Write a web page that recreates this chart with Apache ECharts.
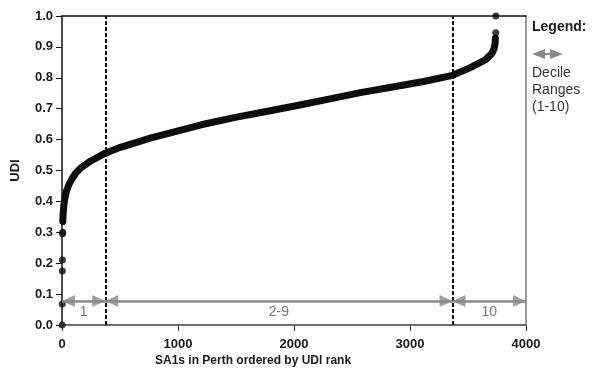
<!DOCTYPE html>
<html>
<head>
<meta charset="utf-8">
<script src="https://cdn.jsdelivr.net/npm/echarts@6/dist/echarts.min.js"></script>
<style>
    html, body {margin: 0; padding: 0; background: #fff;}
    #udi-rank-graph {width: 597px; height: 369px;}
</style>
</head>
<body>
<div id="udi-rank-graph"></div>
<script>
// Rank vs UDI (main curve)
const curveRanks = [7, 10, 15, 25, 40, 60, 85, 115, 160, 244, 373, 503, 761, 934, 1200, 1494, 1750, 2040, 2300, 2572, 2850, 3117, 3367, 3520, 3649, 3707, 3725, 3733, 3736];
const curveUdi = [0.335, 0.36, 0.385, 0.41, 0.435, 0.455, 0.472, 0.49, 0.508, 0.53, 0.556, 0.575, 0.605, 0.622, 0.648, 0.672, 0.69, 0.711, 0.731, 0.752, 0.77, 0.788, 0.808, 0.833, 0.858, 0.879, 0.895, 0.91, 0.928];
// Isolated points at both ends
const outlierRanks = [1, 2, 3, 4, 5, 6, 3739, 3740];
const outlierUdi = [0.0, 0.068, 0.175, 0.21, 0.295, 0.30, 0.946, 1.0];
// Decile boundaries and arrow labels
const decileCuts = [373, 3367];
const decileRanges = [[0, 373, "1"], [373, 3367, "2-9"], [3367, 4000, "10"]];
const arrowUdi = 0.078;
const xTicks = [0, 1000, 2000, 3000, 4000];

const font = "Liberation Sans, Arial, sans-serif";
const chart = echarts.init(document.getElementById("udi-rank-graph"));

const curveData = curveRanks.map((r, i) => [r, curveUdi[i]]);
const outlierData = outlierRanks.map((r, i) => [r, outlierUdi[i]]);

// arrow heads: left-pointing at range start, right-pointing at range end
const headLeft = "path://M0,5L10,0L10,10Z";
const headRight = "path://M10,5L0,0L0,10Z";
const headW = 13;
const arrowHeads = [];
decileRanges.forEach(([a, b]) => {
    arrowHeads.push({value: [a, arrowUdi], symbol: headLeft, symbolOffset: [headW / 2, 0]});
    arrowHeads.push({value: [b, arrowUdi], symbol: headRight, symbolOffset: [-headW / 2, 0]});
});

chart.setOption({
    animation: false,
    grid: {left: 62, right: 71, top: 16, bottom: 44},
    xAxis: [
        {
            type: "value",
            min: xTicks[0],
            max: xTicks[xTicks.length - 1],
            interval: 1000,
            splitLine: {show: false},
            axisLine: {lineStyle: {color: "#6e6e6e", width: 2}},
            axisTick: {length: 6, lineStyle: {color: "#333", width: 1}},
            axisLabel: {
                color: "#1a1a1a", fontWeight: "bold", fontSize: 13, fontFamily: font, margin: 13,
                formatter: (v) => String(v)
            }
        },
        {
            type: "value",
            position: "top",
            min: 0,
            max: 4000,
            axisLine: {show: true, onZero: false, lineStyle: {color: "#111", width: 1.5}},
            axisTick: {show: false},
            axisLabel: {show: false},
            splitLine: {show: false}
        }
    ],
    yAxis: [
        {
            type: "value",
            min: 0,
            max: 1,
            interval: 0.1,
            name: "UDI",
            nameLocation: "middle",
            nameGap: 40,
            nameTextStyle: {color: "#1a1a1a", fontWeight: "bold", fontSize: 13, fontFamily: font},
            splitLine: {show: false},
            axisLine: {show: true, onZero: false, lineStyle: {color: "#111", width: 1.5}},
            axisTick: {show: true, inside: false, length: 6, lineStyle: {color: "#111"}},
            axisLabel: {
                color: "#1a1a1a", fontWeight: "bold", fontSize: 13, fontFamily: font, margin: 9,
                formatter: (v) => v.toFixed(1)
            }
        },
        {
            type: "value",
            position: "right",
            min: 0,
            max: 1,
            axisLine: {show: true, onZero: false, lineStyle: {color: "#777", width: 1.5}},
            axisTick: {show: false},
            axisLabel: {show: false},
            splitLine: {show: false}
        }
    ],
    series: [
        {
            type: "line",
            name: "UDI",
            data: curveData,
            showSymbol: false,
            smooth: false,
            lineStyle: {color: "#0d0d0d", width: 7, cap: "round", join: "round"},
            z: 3
        },
        {
            type: "scatter",
            name: "outliers",
            data: outlierData,
            symbolSize: 7,
            itemStyle: {color: "#0d0d0d"},
            z: 4
        },
        {
            type: "scatter",
            name: "arrow heads",
            data: arrowHeads,
            symbolSize: [headW, 12],
            symbolKeepAspect: false,
            itemStyle: {color: "#888"},
            silent: true,
            z: 2
        },
        {
            // decile cut lines and range arrows
            type: "line",
            data: [],
            markLine: {
                silent: true,
                animation: false,
                symbol: ["none", "none"],
                data: [
                    ...decileCuts.map((c) => ({
                        xAxis: c,
                        label: {show: false},
                        lineStyle: {color: "#111", type: [4, 2], width: 2}
                    })),
                    ...decileRanges.map(([a, b, txt]) => ([
                        {
                            coord: [a, arrowUdi],
                            lineStyle: {color: "#888", type: "solid", width: 2.5},
                            label: {
                                show: true,
                                formatter: txt,
                                position: "insideMiddleBottom",
                                distance: 4,
                                color: "#777",
                                fontSize: 14,
                                fontFamily: font
                            }
                        },
                        {coord: [b, arrowUdi]}
                    ]))
                ]
            },
            z: 2
        }
    ],
    graphic: [
        {
            type: "text",
            left: 155,
            top: 355,
            style: {
                text: "SA1s in Perth ordered by UDI rank",
                fill: "#1a1a1a",
                font: "bold 12px " + font
            }
        },
        {
            type: "text",
            left: 532,
            top: 20,
            style: {text: "Legend:", fill: "#1a1a1a", font: "bold 14px " + font}
        },
        {
            type: "polygon",
            shape: {points: [[532, 54], [545, 49], [545, 59]]},
            style: {fill: "#8a8a8a"}
        },
        {
            type: "polygon",
            shape: {points: [[563, 54], [550, 49], [550, 59]]},
            style: {fill: "#8a8a8a"}
        },
        {
            type: "rect",
            shape: {x: 544, y: 53, width: 7, height: 2},
            style: {fill: "#8a8a8a"}
        },
        {
            type: "text",
            left: 532,
            top: 65,
            style: {
                text: "Decile\nRanges\n(1-10)",
                fill: "#333",
                font: "14px " + font,
                lineHeight: 17
            }
        }
    ]
});
</script>
</body>
</html>
